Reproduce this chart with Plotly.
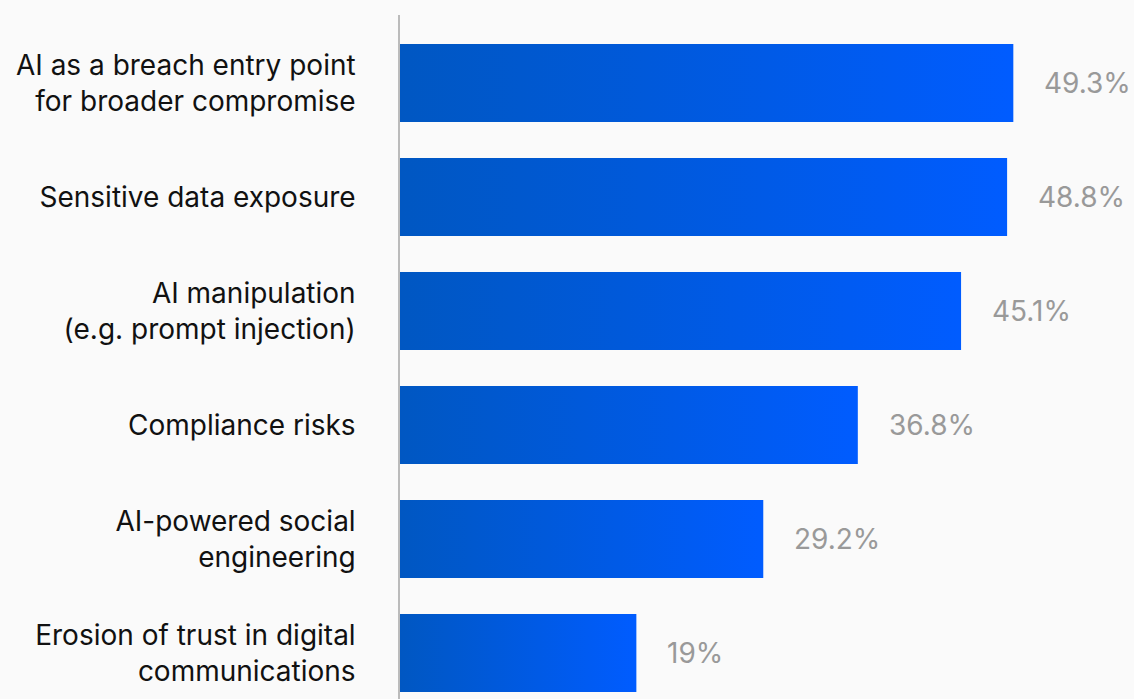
import plotly.graph_objects as go

categories = [
    "AI as a breach entry point<br>for broader compromise",
    "Sensitive data exposure",
    "AI manipulation<br>(e.g. prompt injection)",
    "Compliance risks",
    "AI-powered social<br>engineering",
    "Erosion of trust in digital<br>communications",
]
values = [49.3, 48.8, 45.1, 36.8, 29.2, 19]
value_labels = ["49.3%", "48.8%", "45.1%", "36.8%", "29.2%", "19%"]

HALF = 0.342
fig = go.Figure()
for i, v in enumerate(values):
    fig.add_trace(go.Scatter(
        x=[0, v, v, 0, 0],
        y=[i - HALF, i - HALF, i + HALF, i + HALF, i - HALF],
        mode="lines",
        line=dict(width=0),
        fill="toself",
        fillgradient=dict(type="horizontal",
                          colorscale=[[0, "#0057c2"], [1, "#005cff"]]),
        hoverinfo="skip",
        showlegend=False,
    ))
    fig.add_annotation(x=v, y=i, text=value_labels[i], showarrow=False,
                       xanchor="left", xshift=29,
                       font=dict(family="Inter", size=28, color="#999999"))

fig.update_layout(
    width=1134, height=699,
    margin=dict(l=400, r=0, t=15, b=0),
    paper_bgcolor="#fafafa", plot_bgcolor="#fafafa",
    font=dict(family="Inter", size=28, color="#111111"),
    xaxis=dict(range=[0, 59], visible=False, fixedrange=True),
    yaxis=dict(range=[5.4035, -0.5965], tickvals=list(range(len(categories))),
               ticktext=categories, showline=True, linecolor="#bbbbbb",
               linewidth=1.5, showgrid=False, zeroline=False,
               ticks="", ticklabelstandoff=37, fixedrange=True),
)
fig.write_html("out.html")
